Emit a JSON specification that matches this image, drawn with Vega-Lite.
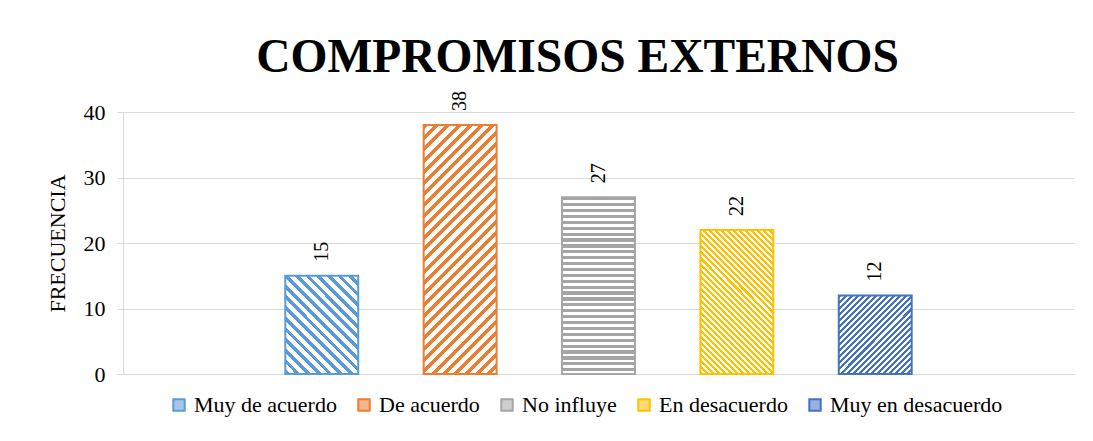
{
  "$schema": "https://vega.github.io/schema/vega-lite/v6.json",
  "width": 951,
  "height": 262,
  "autosize": "none",
  "padding": {"left": 123, "top": 112, "right": 19, "bottom": 67},
  "background": "white",
  "config": {"view": {"stroke": null}, "font": "Liberation Serif, serif", "legend": {"labelFont": "Liberation Serif, serif"}, "text": {"font": "Liberation Serif, serif"}},
  "title": {"text": "COMPROMISOS EXTERNOS", "font": "Liberation Serif, serif", "fontSize": 47.5, "fontWeight": "bold", "color": "#000", "anchor": "middle", "dx": -21, "dy": 49, "baseline": "alphabetic", "offset": 21},
  "data": {"values": [
    {"cat": "Muy de acuerdo", "v": 15},
    {"cat": "De acuerdo", "v": 38},
    {"cat": "No influye", "v": 27},
    {"cat": "En desacuerdo", "v": 22},
    {"cat": "Muy en desacuerdo", "v": 12}
  ]},
  "encoding": {
    "x": {"field": "cat", "type": "nominal", "sort": null, "axis": null,
      "scale": {"domain": ["_a", "Muy de acuerdo", "De acuerdo", "No influye", "En desacuerdo", "Muy en desacuerdo", "_b"], "paddingInner": 0.473, "paddingOuter": 0.173}},
    "y": {"field": "v", "type": "quantitative",
      "scale": {"domain": [0, 40]},
      "axis": {"values": [0, 10, 20, 30, 40], "title": "FRECUENCIA", "titleFont": "Liberation Serif, serif", "titleFontSize": 22, "titleFontWeight": "normal", "titleColor": "#000", "labelFont": "Liberation Serif, serif", "labelFontSize": 22, "labelColor": "#000", "domainColor": "#D9D9D9", "tickColor": "#D9D9D9", "tickSize": 6, "gridColor": "#D9D9D9", "labelPadding": 12, "titlePadding": 14}}
  },
  "layer": [
    {"transform": [{"filter": "datum.cat == 'Muy de acuerdo'"}],
     "mark": {"type": "bar", "fill": {"gradient": "linear", "x1": 0, "y1": 1, "x2": 0.8344, "y2": -0.1231, "stops": [
      {"offset":0,"color":"#5B9BD5"},{"offset":0.028,"color":"#5B9BD5"},{"offset":0.028,"color":"#fff"},{"offset":0.0625,"color":"#fff"},
      {"offset":0.0625,"color":"#5B9BD5"},{"offset":0.0905,"color":"#5B9BD5"},{"offset":0.0905,"color":"#fff"},{"offset":0.125,"color":"#fff"},
      {"offset":0.125,"color":"#5B9BD5"},{"offset":0.153,"color":"#5B9BD5"},{"offset":0.153,"color":"#fff"},{"offset":0.1875,"color":"#fff"},
      {"offset":0.1875,"color":"#5B9BD5"},{"offset":0.2155,"color":"#5B9BD5"},{"offset":0.2155,"color":"#fff"},{"offset":0.25,"color":"#fff"},
      {"offset":0.25,"color":"#5B9BD5"},{"offset":0.278,"color":"#5B9BD5"},{"offset":0.278,"color":"#fff"},{"offset":0.3125,"color":"#fff"},
      {"offset":0.3125,"color":"#5B9BD5"},{"offset":0.3405,"color":"#5B9BD5"},{"offset":0.3405,"color":"#fff"},{"offset":0.375,"color":"#fff"},
      {"offset":0.375,"color":"#5B9BD5"},{"offset":0.403,"color":"#5B9BD5"},{"offset":0.403,"color":"#fff"},{"offset":0.4375,"color":"#fff"},
      {"offset":0.4375,"color":"#5B9BD5"},{"offset":0.4655,"color":"#5B9BD5"},{"offset":0.4655,"color":"#fff"},{"offset":0.5,"color":"#fff"},
      {"offset":0.5,"color":"#5B9BD5"},{"offset":0.528,"color":"#5B9BD5"},{"offset":0.528,"color":"#fff"},{"offset":0.5625,"color":"#fff"},
      {"offset":0.5625,"color":"#5B9BD5"},{"offset":0.5905,"color":"#5B9BD5"},{"offset":0.5905,"color":"#fff"},{"offset":0.625,"color":"#fff"},
      {"offset":0.625,"color":"#5B9BD5"},{"offset":0.653,"color":"#5B9BD5"},{"offset":0.653,"color":"#fff"},{"offset":0.6875,"color":"#fff"},
      {"offset":0.6875,"color":"#5B9BD5"},{"offset":0.7155,"color":"#5B9BD5"},{"offset":0.7155,"color":"#fff"},{"offset":0.75,"color":"#fff"},
      {"offset":0.75,"color":"#5B9BD5"},{"offset":0.778,"color":"#5B9BD5"},{"offset":0.778,"color":"#fff"},{"offset":0.8125,"color":"#fff"},
      {"offset":0.8125,"color":"#5B9BD5"},{"offset":0.8405,"color":"#5B9BD5"},{"offset":0.8405,"color":"#fff"},{"offset":0.875,"color":"#fff"},
      {"offset":0.875,"color":"#5B9BD5"},{"offset":0.903,"color":"#5B9BD5"},{"offset":0.903,"color":"#fff"},{"offset":0.9375,"color":"#fff"},
      {"offset":0.9375,"color":"#5B9BD5"},{"offset":0.9655,"color":"#5B9BD5"},{"offset":0.9655,"color":"#fff"},{"offset":1,"color":"#fff"}
     ]}}},
    {"transform": [{"filter": "datum.cat == 'De acuerdo'"}],
     "mark": {"type": "bar", "fill": {"gradient": "linear", "x1": 0, "y1": 0, "x2": 0.3493, "y2": 1.191, "stops": [
      {"offset":0,"color":"#ED7D31"},{"offset":0.0155,"color":"#ED7D31"},{"offset":0.0155,"color":"#fff"},{"offset":0.0345,"color":"#fff"},
      {"offset":0.0345,"color":"#ED7D31"},{"offset":0.05,"color":"#ED7D31"},{"offset":0.05,"color":"#fff"},{"offset":0.069,"color":"#fff"},
      {"offset":0.069,"color":"#ED7D31"},{"offset":0.0845,"color":"#ED7D31"},{"offset":0.0845,"color":"#fff"},{"offset":0.1034,"color":"#fff"},
      {"offset":0.1034,"color":"#ED7D31"},{"offset":0.119,"color":"#ED7D31"},{"offset":0.119,"color":"#fff"},{"offset":0.1379,"color":"#fff"},
      {"offset":0.1379,"color":"#ED7D31"},{"offset":0.1534,"color":"#ED7D31"},{"offset":0.1534,"color":"#fff"},{"offset":0.1724,"color":"#fff"},
      {"offset":0.1724,"color":"#ED7D31"},{"offset":0.1879,"color":"#ED7D31"},{"offset":0.1879,"color":"#fff"},{"offset":0.2069,"color":"#fff"},
      {"offset":0.2069,"color":"#ED7D31"},{"offset":0.2224,"color":"#ED7D31"},{"offset":0.2224,"color":"#fff"},{"offset":0.2414,"color":"#fff"},
      {"offset":0.2414,"color":"#ED7D31"},{"offset":0.2569,"color":"#ED7D31"},{"offset":0.2569,"color":"#fff"},{"offset":0.2759,"color":"#fff"},
      {"offset":0.2759,"color":"#ED7D31"},{"offset":0.2914,"color":"#ED7D31"},{"offset":0.2914,"color":"#fff"},{"offset":0.3103,"color":"#fff"},
      {"offset":0.3103,"color":"#ED7D31"},{"offset":0.3258,"color":"#ED7D31"},{"offset":0.3258,"color":"#fff"},{"offset":0.3448,"color":"#fff"},
      {"offset":0.3448,"color":"#ED7D31"},{"offset":0.3603,"color":"#ED7D31"},{"offset":0.3603,"color":"#fff"},{"offset":0.3793,"color":"#fff"},
      {"offset":0.3793,"color":"#ED7D31"},{"offset":0.3948,"color":"#ED7D31"},{"offset":0.3948,"color":"#fff"},{"offset":0.4138,"color":"#fff"},
      {"offset":0.4138,"color":"#ED7D31"},{"offset":0.4293,"color":"#ED7D31"},{"offset":0.4293,"color":"#fff"},{"offset":0.4483,"color":"#fff"},
      {"offset":0.4483,"color":"#ED7D31"},{"offset":0.4638,"color":"#ED7D31"},{"offset":0.4638,"color":"#fff"},{"offset":0.4828,"color":"#fff"},
      {"offset":0.4828,"color":"#ED7D31"},{"offset":0.4983,"color":"#ED7D31"},{"offset":0.4983,"color":"#fff"},{"offset":0.5172,"color":"#fff"},
      {"offset":0.5172,"color":"#ED7D31"},{"offset":0.5327,"color":"#ED7D31"},{"offset":0.5327,"color":"#fff"},{"offset":0.5517,"color":"#fff"},
      {"offset":0.5517,"color":"#ED7D31"},{"offset":0.5672,"color":"#ED7D31"},{"offset":0.5672,"color":"#fff"},{"offset":0.5862,"color":"#fff"},
      {"offset":0.5862,"color":"#ED7D31"},{"offset":0.6017,"color":"#ED7D31"},{"offset":0.6017,"color":"#fff"},{"offset":0.6207,"color":"#fff"},
      {"offset":0.6207,"color":"#ED7D31"},{"offset":0.6362,"color":"#ED7D31"},{"offset":0.6362,"color":"#fff"},{"offset":0.6552,"color":"#fff"},
      {"offset":0.6552,"color":"#ED7D31"},{"offset":0.6707,"color":"#ED7D31"},{"offset":0.6707,"color":"#fff"},{"offset":0.6897,"color":"#fff"},
      {"offset":0.6897,"color":"#ED7D31"},{"offset":0.7052,"color":"#ED7D31"},{"offset":0.7052,"color":"#fff"},{"offset":0.7241,"color":"#fff"},
      {"offset":0.7241,"color":"#ED7D31"},{"offset":0.7396,"color":"#ED7D31"},{"offset":0.7396,"color":"#fff"},{"offset":0.7586,"color":"#fff"},
      {"offset":0.7586,"color":"#ED7D31"},{"offset":0.7741,"color":"#ED7D31"},{"offset":0.7741,"color":"#fff"},{"offset":0.7931,"color":"#fff"},
      {"offset":0.7931,"color":"#ED7D31"},{"offset":0.8086,"color":"#ED7D31"},{"offset":0.8086,"color":"#fff"},{"offset":0.8276,"color":"#fff"},
      {"offset":0.8276,"color":"#ED7D31"},{"offset":0.8431,"color":"#ED7D31"},{"offset":0.8431,"color":"#fff"},{"offset":0.8621,"color":"#fff"},
      {"offset":0.8621,"color":"#ED7D31"},{"offset":0.8776,"color":"#ED7D31"},{"offset":0.8776,"color":"#fff"},{"offset":0.8966,"color":"#fff"},
      {"offset":0.8966,"color":"#ED7D31"},{"offset":0.9121,"color":"#ED7D31"},{"offset":0.9121,"color":"#fff"},{"offset":0.931,"color":"#fff"},
      {"offset":0.931,"color":"#ED7D31"},{"offset":0.9465,"color":"#ED7D31"},{"offset":0.9465,"color":"#fff"},{"offset":0.9655,"color":"#fff"},
      {"offset":0.9655,"color":"#ED7D31"},{"offset":0.981,"color":"#ED7D31"},{"offset":0.981,"color":"#fff"},{"offset":1,"color":"#fff"}
     ]}}},
    {"transform": [{"filter": "datum.cat == 'No influye'"}],
     "mark": {"type": "bar", "fill": {"gradient": "linear", "x1": 0, "y1": 0, "x2": 0, "y2": 1, "stops": [
      {"offset":0,"color":"#A5A5A5"},{"offset":0.0183,"color":"#A5A5A5"},{"offset":0.0183,"color":"#fff"},{"offset":0.0333,"color":"#fff"},
      {"offset":0.0333,"color":"#A5A5A5"},{"offset":0.0517,"color":"#A5A5A5"},{"offset":0.0517,"color":"#fff"},{"offset":0.0667,"color":"#fff"},
      {"offset":0.0667,"color":"#A5A5A5"},{"offset":0.085,"color":"#A5A5A5"},{"offset":0.085,"color":"#fff"},{"offset":0.1,"color":"#fff"},
      {"offset":0.1,"color":"#A5A5A5"},{"offset":0.1183,"color":"#A5A5A5"},{"offset":0.1183,"color":"#fff"},{"offset":0.1333,"color":"#fff"},
      {"offset":0.1333,"color":"#A5A5A5"},{"offset":0.1517,"color":"#A5A5A5"},{"offset":0.1517,"color":"#fff"},{"offset":0.1667,"color":"#fff"},
      {"offset":0.1667,"color":"#A5A5A5"},{"offset":0.185,"color":"#A5A5A5"},{"offset":0.185,"color":"#fff"},{"offset":0.2,"color":"#fff"},
      {"offset":0.2,"color":"#A5A5A5"},{"offset":0.2183,"color":"#A5A5A5"},{"offset":0.2183,"color":"#fff"},{"offset":0.2333,"color":"#fff"},
      {"offset":0.2333,"color":"#A5A5A5"},{"offset":0.2517,"color":"#A5A5A5"},{"offset":0.2517,"color":"#fff"},{"offset":0.2667,"color":"#fff"},
      {"offset":0.2667,"color":"#A5A5A5"},{"offset":0.285,"color":"#A5A5A5"},{"offset":0.285,"color":"#fff"},{"offset":0.3,"color":"#fff"},
      {"offset":0.3,"color":"#A5A5A5"},{"offset":0.3183,"color":"#A5A5A5"},{"offset":0.3183,"color":"#fff"},{"offset":0.3333,"color":"#fff"},
      {"offset":0.3333,"color":"#A5A5A5"},{"offset":0.3517,"color":"#A5A5A5"},{"offset":0.3517,"color":"#fff"},{"offset":0.3667,"color":"#fff"},
      {"offset":0.3667,"color":"#A5A5A5"},{"offset":0.385,"color":"#A5A5A5"},{"offset":0.385,"color":"#fff"},{"offset":0.4,"color":"#fff"},
      {"offset":0.4,"color":"#A5A5A5"},{"offset":0.4183,"color":"#A5A5A5"},{"offset":0.4183,"color":"#fff"},{"offset":0.4333,"color":"#fff"},
      {"offset":0.4333,"color":"#A5A5A5"},{"offset":0.4517,"color":"#A5A5A5"},{"offset":0.4517,"color":"#fff"},{"offset":0.4667,"color":"#fff"},
      {"offset":0.4667,"color":"#A5A5A5"},{"offset":0.485,"color":"#A5A5A5"},{"offset":0.485,"color":"#fff"},{"offset":0.5,"color":"#fff"},
      {"offset":0.5,"color":"#A5A5A5"},{"offset":0.5183,"color":"#A5A5A5"},{"offset":0.5183,"color":"#fff"},{"offset":0.5333,"color":"#fff"},
      {"offset":0.5333,"color":"#A5A5A5"},{"offset":0.5517,"color":"#A5A5A5"},{"offset":0.5517,"color":"#fff"},{"offset":0.5667,"color":"#fff"},
      {"offset":0.5667,"color":"#A5A5A5"},{"offset":0.585,"color":"#A5A5A5"},{"offset":0.585,"color":"#fff"},{"offset":0.6,"color":"#fff"},
      {"offset":0.6,"color":"#A5A5A5"},{"offset":0.6183,"color":"#A5A5A5"},{"offset":0.6183,"color":"#fff"},{"offset":0.6333,"color":"#fff"},
      {"offset":0.6333,"color":"#A5A5A5"},{"offset":0.6517,"color":"#A5A5A5"},{"offset":0.6517,"color":"#fff"},{"offset":0.6667,"color":"#fff"},
      {"offset":0.6667,"color":"#A5A5A5"},{"offset":0.685,"color":"#A5A5A5"},{"offset":0.685,"color":"#fff"},{"offset":0.7,"color":"#fff"},
      {"offset":0.7,"color":"#A5A5A5"},{"offset":0.7183,"color":"#A5A5A5"},{"offset":0.7183,"color":"#fff"},{"offset":0.7333,"color":"#fff"},
      {"offset":0.7333,"color":"#A5A5A5"},{"offset":0.7517,"color":"#A5A5A5"},{"offset":0.7517,"color":"#fff"},{"offset":0.7667,"color":"#fff"},
      {"offset":0.7667,"color":"#A5A5A5"},{"offset":0.785,"color":"#A5A5A5"},{"offset":0.785,"color":"#fff"},{"offset":0.8,"color":"#fff"},
      {"offset":0.8,"color":"#A5A5A5"},{"offset":0.8183,"color":"#A5A5A5"},{"offset":0.8183,"color":"#fff"},{"offset":0.8333,"color":"#fff"},
      {"offset":0.8333,"color":"#A5A5A5"},{"offset":0.8517,"color":"#A5A5A5"},{"offset":0.8517,"color":"#fff"},{"offset":0.8667,"color":"#fff"},
      {"offset":0.8667,"color":"#A5A5A5"},{"offset":0.885,"color":"#A5A5A5"},{"offset":0.885,"color":"#fff"},{"offset":0.9,"color":"#fff"},
      {"offset":0.9,"color":"#A5A5A5"},{"offset":0.9183,"color":"#A5A5A5"},{"offset":0.9183,"color":"#fff"},{"offset":0.9333,"color":"#fff"},
      {"offset":0.9333,"color":"#A5A5A5"},{"offset":0.9517,"color":"#A5A5A5"},{"offset":0.9517,"color":"#fff"},{"offset":0.9667,"color":"#fff"},
      {"offset":0.9667,"color":"#A5A5A5"},{"offset":0.985,"color":"#A5A5A5"},{"offset":0.985,"color":"#fff"},{"offset":1,"color":"#fff"}
     ]}}},
    {"transform": [{"filter": "datum.cat == 'En desacuerdo'"}],
     "mark": {"type": "bar", "fill": {"gradient": "linear", "x1": 0, "y1": 1, "x2": 0.6074, "y2": -0.1989, "stops": [
      {"offset":0,"color":"#FFC000"},{"offset":0.0139,"color":"#FFC000"},{"offset":0.0139,"color":"#fff"},{"offset":0.0278,"color":"#fff"},
      {"offset":0.0278,"color":"#FFC000"},{"offset":0.0417,"color":"#FFC000"},{"offset":0.0417,"color":"#fff"},{"offset":0.0556,"color":"#fff"},
      {"offset":0.0556,"color":"#FFC000"},{"offset":0.0695,"color":"#FFC000"},{"offset":0.0695,"color":"#fff"},{"offset":0.0833,"color":"#fff"},
      {"offset":0.0833,"color":"#FFC000"},{"offset":0.0972,"color":"#FFC000"},{"offset":0.0972,"color":"#fff"},{"offset":0.1111,"color":"#fff"},
      {"offset":0.1111,"color":"#FFC000"},{"offset":0.125,"color":"#FFC000"},{"offset":0.125,"color":"#fff"},{"offset":0.1389,"color":"#fff"},
      {"offset":0.1389,"color":"#FFC000"},{"offset":0.1528,"color":"#FFC000"},{"offset":0.1528,"color":"#fff"},{"offset":0.1667,"color":"#fff"},
      {"offset":0.1667,"color":"#FFC000"},{"offset":0.1806,"color":"#FFC000"},{"offset":0.1806,"color":"#fff"},{"offset":0.1944,"color":"#fff"},
      {"offset":0.1944,"color":"#FFC000"},{"offset":0.2083,"color":"#FFC000"},{"offset":0.2083,"color":"#fff"},{"offset":0.2222,"color":"#fff"},
      {"offset":0.2222,"color":"#FFC000"},{"offset":0.2361,"color":"#FFC000"},{"offset":0.2361,"color":"#fff"},{"offset":0.25,"color":"#fff"},
      {"offset":0.25,"color":"#FFC000"},{"offset":0.2639,"color":"#FFC000"},{"offset":0.2639,"color":"#fff"},{"offset":0.2778,"color":"#fff"},
      {"offset":0.2778,"color":"#FFC000"},{"offset":0.2917,"color":"#FFC000"},{"offset":0.2917,"color":"#fff"},{"offset":0.3056,"color":"#fff"},
      {"offset":0.3056,"color":"#FFC000"},{"offset":0.3195,"color":"#FFC000"},{"offset":0.3195,"color":"#fff"},{"offset":0.3333,"color":"#fff"},
      {"offset":0.3333,"color":"#FFC000"},{"offset":0.3472,"color":"#FFC000"},{"offset":0.3472,"color":"#fff"},{"offset":0.3611,"color":"#fff"},
      {"offset":0.3611,"color":"#FFC000"},{"offset":0.375,"color":"#FFC000"},{"offset":0.375,"color":"#fff"},{"offset":0.3889,"color":"#fff"},
      {"offset":0.3889,"color":"#FFC000"},{"offset":0.4028,"color":"#FFC000"},{"offset":0.4028,"color":"#fff"},{"offset":0.4167,"color":"#fff"},
      {"offset":0.4167,"color":"#FFC000"},{"offset":0.4306,"color":"#FFC000"},{"offset":0.4306,"color":"#fff"},{"offset":0.4444,"color":"#fff"},
      {"offset":0.4444,"color":"#FFC000"},{"offset":0.4583,"color":"#FFC000"},{"offset":0.4583,"color":"#fff"},{"offset":0.4722,"color":"#fff"},
      {"offset":0.4722,"color":"#FFC000"},{"offset":0.4861,"color":"#FFC000"},{"offset":0.4861,"color":"#fff"},{"offset":0.5,"color":"#fff"},
      {"offset":0.5,"color":"#FFC000"},{"offset":0.5139,"color":"#FFC000"},{"offset":0.5139,"color":"#fff"},{"offset":0.5278,"color":"#fff"},
      {"offset":0.5278,"color":"#FFC000"},{"offset":0.5417,"color":"#FFC000"},{"offset":0.5417,"color":"#fff"},{"offset":0.5556,"color":"#fff"},
      {"offset":0.5556,"color":"#FFC000"},{"offset":0.5695,"color":"#FFC000"},{"offset":0.5695,"color":"#fff"},{"offset":0.5833,"color":"#fff"},
      {"offset":0.5833,"color":"#FFC000"},{"offset":0.5972,"color":"#FFC000"},{"offset":0.5972,"color":"#fff"},{"offset":0.6111,"color":"#fff"},
      {"offset":0.6111,"color":"#FFC000"},{"offset":0.625,"color":"#FFC000"},{"offset":0.625,"color":"#fff"},{"offset":0.6389,"color":"#fff"},
      {"offset":0.6389,"color":"#FFC000"},{"offset":0.6528,"color":"#FFC000"},{"offset":0.6528,"color":"#fff"},{"offset":0.6667,"color":"#fff"},
      {"offset":0.6667,"color":"#FFC000"},{"offset":0.6806,"color":"#FFC000"},{"offset":0.6806,"color":"#fff"},{"offset":0.6944,"color":"#fff"},
      {"offset":0.6944,"color":"#FFC000"},{"offset":0.7083,"color":"#FFC000"},{"offset":0.7083,"color":"#fff"},{"offset":0.7222,"color":"#fff"},
      {"offset":0.7222,"color":"#FFC000"},{"offset":0.7361,"color":"#FFC000"},{"offset":0.7361,"color":"#fff"},{"offset":0.75,"color":"#fff"},
      {"offset":0.75,"color":"#FFC000"},{"offset":0.7639,"color":"#FFC000"},{"offset":0.7639,"color":"#fff"},{"offset":0.7778,"color":"#fff"},
      {"offset":0.7778,"color":"#FFC000"},{"offset":0.7917,"color":"#FFC000"},{"offset":0.7917,"color":"#fff"},{"offset":0.8056,"color":"#fff"},
      {"offset":0.8056,"color":"#FFC000"},{"offset":0.8195,"color":"#FFC000"},{"offset":0.8195,"color":"#fff"},{"offset":0.8333,"color":"#fff"},
      {"offset":0.8333,"color":"#FFC000"},{"offset":0.8472,"color":"#FFC000"},{"offset":0.8472,"color":"#fff"},{"offset":0.8611,"color":"#fff"},
      {"offset":0.8611,"color":"#FFC000"},{"offset":0.875,"color":"#FFC000"},{"offset":0.875,"color":"#fff"},{"offset":0.8889,"color":"#fff"},
      {"offset":0.8889,"color":"#FFC000"},{"offset":0.9028,"color":"#FFC000"},{"offset":0.9028,"color":"#fff"},{"offset":0.9167,"color":"#fff"},
      {"offset":0.9167,"color":"#FFC000"},{"offset":0.9306,"color":"#FFC000"},{"offset":0.9306,"color":"#fff"},{"offset":0.9444,"color":"#fff"},
      {"offset":0.9444,"color":"#FFC000"},{"offset":0.9583,"color":"#FFC000"},{"offset":0.9583,"color":"#fff"},{"offset":0.9722,"color":"#fff"},
      {"offset":0.9722,"color":"#FFC000"},{"offset":0.9861,"color":"#FFC000"},{"offset":0.9861,"color":"#fff"},{"offset":1,"color":"#fff"}
     ]}}},
    {"transform": [{"filter": "datum.cat == 'Muy en desacuerdo'"}],
     "mark": {"type": "bar", "fill": {"gradient": "linear", "x1": 0, "y1": 0, "x2": 0.9618, "y2": 1.0355, "stops": [
      {"offset":0,"color":"#4472C4"},{"offset":0.02,"color":"#4472C4"},{"offset":0.02,"color":"#fff"},{"offset":0.04,"color":"#fff"},
      {"offset":0.04,"color":"#4472C4"},{"offset":0.06,"color":"#4472C4"},{"offset":0.06,"color":"#fff"},{"offset":0.08,"color":"#fff"},
      {"offset":0.08,"color":"#4472C4"},{"offset":0.1,"color":"#4472C4"},{"offset":0.1,"color":"#fff"},{"offset":0.12,"color":"#fff"},
      {"offset":0.12,"color":"#4472C4"},{"offset":0.14,"color":"#4472C4"},{"offset":0.14,"color":"#fff"},{"offset":0.16,"color":"#fff"},
      {"offset":0.16,"color":"#4472C4"},{"offset":0.18,"color":"#4472C4"},{"offset":0.18,"color":"#fff"},{"offset":0.2,"color":"#fff"},
      {"offset":0.2,"color":"#4472C4"},{"offset":0.22,"color":"#4472C4"},{"offset":0.22,"color":"#fff"},{"offset":0.24,"color":"#fff"},
      {"offset":0.24,"color":"#4472C4"},{"offset":0.26,"color":"#4472C4"},{"offset":0.26,"color":"#fff"},{"offset":0.28,"color":"#fff"},
      {"offset":0.28,"color":"#4472C4"},{"offset":0.3,"color":"#4472C4"},{"offset":0.3,"color":"#fff"},{"offset":0.32,"color":"#fff"},
      {"offset":0.32,"color":"#4472C4"},{"offset":0.34,"color":"#4472C4"},{"offset":0.34,"color":"#fff"},{"offset":0.36,"color":"#fff"},
      {"offset":0.36,"color":"#4472C4"},{"offset":0.38,"color":"#4472C4"},{"offset":0.38,"color":"#fff"},{"offset":0.4,"color":"#fff"},
      {"offset":0.4,"color":"#4472C4"},{"offset":0.42,"color":"#4472C4"},{"offset":0.42,"color":"#fff"},{"offset":0.44,"color":"#fff"},
      {"offset":0.44,"color":"#4472C4"},{"offset":0.46,"color":"#4472C4"},{"offset":0.46,"color":"#fff"},{"offset":0.48,"color":"#fff"},
      {"offset":0.48,"color":"#4472C4"},{"offset":0.5,"color":"#4472C4"},{"offset":0.5,"color":"#fff"},{"offset":0.52,"color":"#fff"},
      {"offset":0.52,"color":"#4472C4"},{"offset":0.54,"color":"#4472C4"},{"offset":0.54,"color":"#fff"},{"offset":0.56,"color":"#fff"},
      {"offset":0.56,"color":"#4472C4"},{"offset":0.58,"color":"#4472C4"},{"offset":0.58,"color":"#fff"},{"offset":0.6,"color":"#fff"},
      {"offset":0.6,"color":"#4472C4"},{"offset":0.62,"color":"#4472C4"},{"offset":0.62,"color":"#fff"},{"offset":0.64,"color":"#fff"},
      {"offset":0.64,"color":"#4472C4"},{"offset":0.66,"color":"#4472C4"},{"offset":0.66,"color":"#fff"},{"offset":0.68,"color":"#fff"},
      {"offset":0.68,"color":"#4472C4"},{"offset":0.7,"color":"#4472C4"},{"offset":0.7,"color":"#fff"},{"offset":0.72,"color":"#fff"},
      {"offset":0.72,"color":"#4472C4"},{"offset":0.74,"color":"#4472C4"},{"offset":0.74,"color":"#fff"},{"offset":0.76,"color":"#fff"},
      {"offset":0.76,"color":"#4472C4"},{"offset":0.78,"color":"#4472C4"},{"offset":0.78,"color":"#fff"},{"offset":0.8,"color":"#fff"},
      {"offset":0.8,"color":"#4472C4"},{"offset":0.82,"color":"#4472C4"},{"offset":0.82,"color":"#fff"},{"offset":0.84,"color":"#fff"},
      {"offset":0.84,"color":"#4472C4"},{"offset":0.86,"color":"#4472C4"},{"offset":0.86,"color":"#fff"},{"offset":0.88,"color":"#fff"},
      {"offset":0.88,"color":"#4472C4"},{"offset":0.9,"color":"#4472C4"},{"offset":0.9,"color":"#fff"},{"offset":0.92,"color":"#fff"},
      {"offset":0.92,"color":"#4472C4"},{"offset":0.94,"color":"#4472C4"},{"offset":0.94,"color":"#fff"},{"offset":0.96,"color":"#fff"},
      {"offset":0.96,"color":"#4472C4"},{"offset":0.98,"color":"#4472C4"},{"offset":0.98,"color":"#fff"},{"offset":1,"color":"#fff"}
     ]}}},
    {"mark": {"type": "bar", "fillOpacity": 0, "strokeWidth": 2},
     "encoding": {
       "stroke": {"field": "cat", "type": "nominal",
         "scale": {"domain": ["Muy de acuerdo", "De acuerdo", "No influye", "En desacuerdo", "Muy en desacuerdo"], "range": ["#5B9BD5", "#ED7D31", "#A5A5A5", "#FFC000", "#4472C4"]},
         "legend": {"title": null, "orient": "none", "legendX": 45, "legendY": 282, "direction": "horizontal", "labelFont": "Liberation Serif, serif", "labelFontSize": 22, "labelColor": "#000", "symbolType": "square", "symbolSize": 130, "symbolStrokeWidth": 2, "columnPadding": 16, "labelLimit": 400, "labelOffset": 4,
           "encode": {"symbols": {"update": {"fillOpacity": {"value": 0.55}}}}}},
       "fill": {"field": "cat", "type": "nominal",
         "scale": {"domain": ["Muy de acuerdo", "De acuerdo", "No influye", "En desacuerdo", "Muy en desacuerdo"], "range": ["#5B9BD5", "#ED7D31", "#A5A5A5", "#FFC000", "#4472C4"]},
         "legend": {"title": null, "orient": "none", "legendX": 45, "legendY": 282, "direction": "horizontal", "labelFont": "Liberation Serif, serif", "labelFontSize": 22, "labelColor": "#000", "symbolType": "square", "symbolSize": 130, "symbolStrokeWidth": 2, "columnPadding": 16, "labelLimit": 400, "labelOffset": 4,
           "encode": {"symbols": {"update": {"fillOpacity": {"value": 0.55}}}}}}
     }},
    {"mark": {"type": "text", "angle": 270, "align": "left", "baseline": "middle", "dx": 14, "font": "Liberation Serif, serif", "fontSize": 20, "color": "#000"},
     "encoding": {"text": {"field": "v", "type": "quantitative"}}}
  ]
}
